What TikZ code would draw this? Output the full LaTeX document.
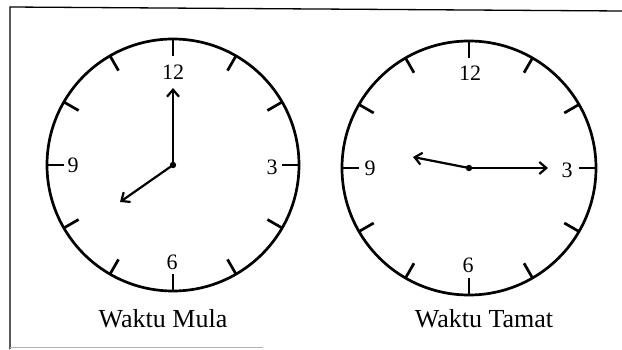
\documentclass[tikz,border=0pt]{standalone}
\usepackage{fontspec}
\setmainfont{Liberation Serif}
\usetikzlibrary{positioning, arrows.meta}

\begin{document}
\begin{tikzpicture}[x=1pt, y=1pt,
    face/.style={line width=2.7pt},
    tickmark/.style={line width=2.7pt},
    hand/.style={line width=2.2pt, -{Straight Barb[length=7pt, width=12pt, line width=2.2pt]}},
    every node/.style={inner sep=0pt}]
    \useasboundingbox (0,0) rectangle (622,349);

    % Frame (scanned, open on the right)
    \draw[line width=1.3pt] (10,0) -- (10,342) -- (622,338);
    \draw[line width=0.8pt, black!30] (10,1.5) -- (263,1.5);

    % Clock centres
    \coordinate (mula) at (173,184);
    \coordinate (tamat) at (469,181);

    % Faces and tick marks
    \draw[face] (mula) circle (126);
    \draw[face] (tamat) circle (127);
    \foreach \a in {0,30,...,330} {
        \draw[tickmark, shift={(mula)}] (\a:126) -- (\a:109);
        \draw[tickmark, shift={(tamat)}] (\a:127) -- (\a:110);
    }

    % Numbers
    \begin{scope}[font=\fontsize{22}{26}\selectfont]
        \node (m12) at (173,277) {12};
        \node (m3) at (272,182) {3};
        \node (m6) at (172,87) {6};
        \node (m9) at (73,184) {9};
        \node (t12) at (470,276) {12};
        \node (t3) at (567,179) {3};
        \node (t6) at (468,84) {6};
        \node (t9) at (370,181) {9};
    \end{scope}

    % Hands
    \coordinate (mulaMin) at (173,261);
    \coordinate (mulaHour) at (120,147);
    \coordinate (tamatMin) at (548,181);
    \coordinate (tamatHour) at (413,192);
    \draw[hand] (mula) -- (mulaMin);
    \draw[hand] (mula) -- (mulaHour);
    \draw[hand] (tamat) -- (tamatMin);
    \draw[hand] (tamat) -- (tamatHour);
    \fill (mula) circle (3.2);
    \fill (tamat) circle (3.2);

    % Captions
    \node[anchor=base, font=\fontsize{26}{31}\selectfont] (capMula) at (163,22) {Waktu Mula};
    \node[anchor=base, font=\fontsize{26}{31}\selectfont] (capTamat) at (484,22) {Waktu Tamat};
\end{tikzpicture}
\end{document}
